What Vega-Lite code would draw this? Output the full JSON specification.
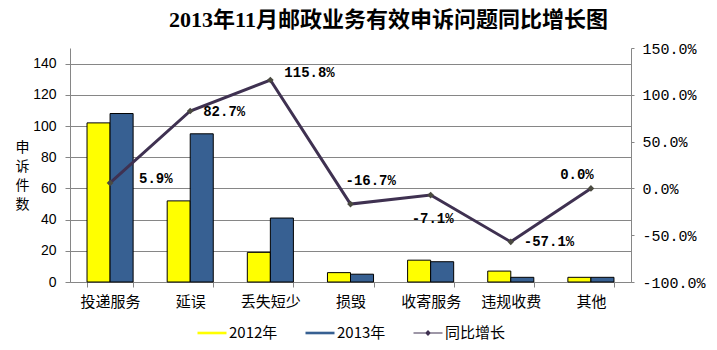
{
  "$schema": "https://vega.github.io/schema/vega-lite/v6.json",
  "width": 561,
  "height": 234,
  "autosize": "none",
  "padding": {"left": 70, "top": 48, "right": 86, "bottom": 68},
  "background": "white",
  "title": {
    "text": "2013年11月邮政业务有效申诉问题同比增长图",
    "font": "Liberation Serif, Noto Sans CJK SC",
    "fontSize": 22,
    "fontWeight": "bold",
    "color": "#000000",
    "anchor": "middle",
    "frame": "group",
    "dx": 38,
    "offset": 9
  },
  "datasets": {
    "counts": [
      {"category": "投递服务", "series": "2012年", "value": 102},
      {"category": "投递服务", "series": "2013年", "value": 108},
      {"category": "延误", "series": "2012年", "value": 52},
      {"category": "延误", "series": "2013年", "value": 95},
      {"category": "丢失短少", "series": "2012年", "value": 19},
      {"category": "丢失短少", "series": "2013年", "value": 41},
      {"category": "损毁", "series": "2012年", "value": 6},
      {"category": "损毁", "series": "2013年", "value": 5},
      {"category": "收寄服务", "series": "2012年", "value": 14},
      {"category": "收寄服务", "series": "2013年", "value": 13},
      {"category": "违规收费", "series": "2012年", "value": 7},
      {"category": "违规收费", "series": "2013年", "value": 3},
      {"category": "其他", "series": "2012年", "value": 3},
      {"category": "其他", "series": "2013年", "value": 3}
    ],
    "growth": [
      {"category": "投递服务", "series": "同比增长", "growth": 0.059},
      {"category": "延误", "series": "同比增长", "growth": 0.827},
      {"category": "丢失短少", "series": "同比增长", "growth": 1.158},
      {"category": "损毁", "series": "同比增长", "growth": -0.167},
      {"category": "收寄服务", "series": "同比增长", "growth": -0.071},
      {"category": "违规收费", "series": "同比增长", "growth": -0.571},
      {"category": "其他", "series": "同比增长", "growth": 0.0}
    ]
  },
  "layer": [
    {
      "data": {"name": "counts"},
      "mark": {"type": "bar", "stroke": "#000000", "strokeWidth": 1},
      "encoding": {
        "x": {
          "field": "category",
          "type": "nominal",
          "sort": ["投递服务", "延误", "丢失短少", "损毁", "收寄服务", "违规收费", "其他"],
          "scale": {"paddingInner": 0.425, "paddingOuter": 0.2125},
          "axis": {
            "title": null,
            "labelAngle": 0,
            "labelFont": "Noto Sans CJK SC",
            "labelFontSize": 15,
            "labelColor": "#000000",
            "labelPadding": 7,
            "domainColor": "#868686",
            "tickColor": "#868686",
            "tickSize": 5,
            "tickBand": "extent",
            "grid": false
          }
        },
        "xOffset": {
          "field": "series",
          "type": "nominal",
          "sort": ["2012年", "2013年"],
          "scale": {"paddingInner": 0, "paddingOuter": 0}
        },
        "y": {
          "field": "value",
          "type": "quantitative",
          "scale": {"domain": [0, 150], "nice": false},
          "axis": {
            "title": ["申", "诉", "件", "数"],
            "titleAngle": 0,
            "titleFont": "Noto Sans CJK SC",
            "titleFontSize": 14,
            "titleFontWeight": "normal",
            "titleColor": "#000000",
            "titleLineHeight": 19,
            "titleX": -48,
            "titleY": 99,
            "titleAlign": "center",
            "titleBaseline": "middle",
            "values": [0, 20, 40, 60, 80, 100, 120, 140],
            "labelFont": "Liberation Sans",
            "labelFontSize": 14,
            "labelColor": "#000000",
            "labelPadding": 9,
            "tickSize": 5,
            "tickColor": "#868686",
            "domainColor": "#868686",
            "grid": true,
            "gridColor": "#868686",
            "gridWidth": 1
          }
        },
        "color": {
          "field": "series",
          "type": "nominal",
          "scale": {"domain": ["2012年", "2013年", "同比增长"], "range": ["#FFFF00", "#376092", "#3F3151"]},
          "legend": {"title": null}
        }
      }
    },
    {
      "data": {"name": "growth"},
      "encoding": {
        "x": {
          "field": "category",
          "type": "nominal",
          "sort": ["投递服务", "延误", "丢失短少", "损毁", "收寄服务", "违规收费", "其他"]
        },
        "y": {
          "field": "growth",
          "type": "quantitative",
          "scale": {"domain": [-1, 1.5], "nice": false, "zero": false},
          "axis": {
            "orient": "right",
            "title": null,
            "values": [-1, -0.5, 0, 0.5, 1, 1.5],
            "format": ".1%",
            "labelFont": "Liberation Mono",
            "labelFontSize": 15,
            "labelColor": "#000000",
            "labelPadding": 8,
            "tickSize": 3,
            "tickColor": "#868686",
            "domainColor": "#868686",
            "grid": false
          }
        }
      },
      "layer": [
        {"mark": {"type": "line", "color": "#3F3151", "strokeWidth": 3}},
        {"mark": {"type": "point", "shape": "diamond", "filled": true, "color": "#4A4A40", "size": 45, "opacity": 1}},
        {
          "mark": {"type": "point", "filled": true, "opacity": 0},
          "encoding": {
            "color": {
              "field": "series",
              "type": "nominal",
              "scale": {"domain": ["2012年", "2013年", "同比增长"], "range": ["#FFFF00", "#376092", "#3F3151"]},
              "legend": {"title": null}
            },
            "shape": {
              "field": "series",
              "type": "nominal",
              "scale": {
                "domain": ["2012年", "2013年", "同比增长"],
                "range": [
                  "M-1,-0.09H1V0.09H-1Z",
                  "M-1,-0.09H1V0.09H-1Z",
                  "M-1,-0.04H1V0.04H-1Z M0,-0.2L0.2,0L0,0.2L-0.2,0Z"
                ]
              },
              "legend": {"title": null}
            }
          }
        },
        {
          "transform": [{"filter": {"field": "category", "equal": "投递服务"}}],
          "mark": {"type": "text", "align": "left", "baseline": "middle", "dx": 29, "dy": -4, "font": "Liberation Mono", "fontSize": 14, "fontWeight": "bold", "color": "#000000"},
          "encoding": {"text": {"field": "growth", "type": "quantitative", "format": ".1%"}}
        },
        {
          "transform": [{"filter": {"field": "category", "equal": "延误"}}],
          "mark": {"type": "text", "align": "left", "baseline": "middle", "dx": 13, "dy": 1, "font": "Liberation Mono", "fontSize": 14, "fontWeight": "bold", "color": "#000000"},
          "encoding": {"text": {"field": "growth", "type": "quantitative", "format": ".1%"}}
        },
        {
          "transform": [{"filter": {"field": "category", "equal": "丢失短少"}}],
          "mark": {"type": "text", "align": "left", "baseline": "middle", "dx": 14, "dy": -7, "font": "Liberation Mono", "fontSize": 14, "fontWeight": "bold", "color": "#000000"},
          "encoding": {"text": {"field": "growth", "type": "quantitative", "format": ".1%"}}
        },
        {
          "transform": [{"filter": {"field": "category", "equal": "损毁"}}],
          "mark": {"type": "text", "align": "left", "baseline": "middle", "dx": -5, "dy": -23, "font": "Liberation Mono", "fontSize": 14, "fontWeight": "bold", "color": "#000000"},
          "encoding": {"text": {"field": "growth", "type": "quantitative", "format": ".1%"}}
        },
        {
          "transform": [{"filter": {"field": "category", "equal": "收寄服务"}}],
          "mark": {"type": "text", "align": "center", "baseline": "middle", "dx": 2, "dy": 24, "font": "Liberation Mono", "fontSize": 14, "fontWeight": "bold", "color": "#000000"},
          "encoding": {"text": {"field": "growth", "type": "quantitative", "format": ".1%"}}
        },
        {
          "transform": [{"filter": {"field": "category", "equal": "违规收费"}}],
          "mark": {"type": "text", "align": "left", "baseline": "middle", "dx": 13, "dy": 0, "font": "Liberation Mono", "fontSize": 14, "fontWeight": "bold", "color": "#000000"},
          "encoding": {"text": {"field": "growth", "type": "quantitative", "format": ".1%"}}
        },
        {
          "transform": [{"filter": {"field": "category", "equal": "其他"}}],
          "mark": {"type": "text", "align": "center", "baseline": "middle", "dx": -14, "dy": -13, "font": "Liberation Mono", "fontSize": 14, "fontWeight": "bold", "color": "#000000"},
          "encoding": {"text": {"field": "growth", "type": "quantitative", "format": ".1%"}}
        }
      ]
    }
  ],
  "resolve": {"scale": {"y": "independent"}},
  "config": {
    "view": {"stroke": null},
    "locale": {
      "number": {"decimal": ".", "thousands": ",", "grouping": [3], "currency": ["$", ""], "minus": "-"}
    },
    "legend": {
      "orient": "none",
      "legendX": 127,
      "legendY": 270,
      "direction": "horizontal",
      "labelFont": "Noto Sans CJK SC",
      "labelFontSize": 15,
      "labelColor": "#000000",
      "labelOffset": 2,
      "columnPadding": 25,
      "symbolSize": 841,
      "symbolStrokeColor": "#000000",
      "symbolStrokeWidth": 1,
      "symbolOpacity": 1
    }
  }
}
